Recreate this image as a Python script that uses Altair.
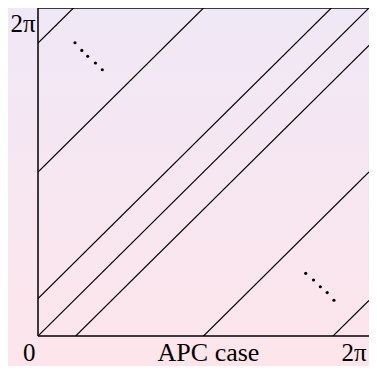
import math
import altair as alt
import pandas as pd

TWO_PI = 2 * math.pi

# diagonal line offsets (y = x + c), in radians
offsets = [0.0, 0.715, math.pi, 5.61, -0.715, -math.pi, -5.6]

# "....." dots
dots_x = [0.702, 0.832, 0.943, 1.090, 1.220, 5.082, 5.230, 5.359, 5.489, 5.618]
dots_y = [5.618, 5.470, 5.359, 5.230, 5.100, 1.201, 1.072, 0.943, 0.832, 0.684]

x_ticks = [0.0, TWO_PI]
y_ticks = [TWO_PI]
x_title = "APC case"

rows = []
for i, c in enumerate(offsets):
    rows.append({"g": i, "x": 0.0, "y": c})
    rows.append({"g": i, "x": TWO_PI, "y": TWO_PI + c})
lines_df = pd.DataFrame(rows)
dots_df = pd.DataFrame({"x": dots_x, "y": dots_y})

FONT = "Liberation Serif"
W, H = 331, 328
SVG_H = 358
xscale = alt.Scale(domain=[0, TWO_PI], nice=False, zero=False)
yscale = alt.Scale(domain=[0, TWO_PI], nice=False, zero=False)

bg = alt.Chart(pd.DataFrame({"a": [0]})).mark_rect(
    color=alt.LinearGradient(
        gradient="linear",
        stops=[alt.GradientStop(color="#F0E8F6", offset=0),
               alt.GradientStop(color="#FDE5EB", offset=1)],
        x1=0, x2=0, y1=0, y2=1,
    )
).encode(x=alt.value(-30), x2=alt.value(W), y=alt.value(0), y2=alt.value(SVG_H))

lines = alt.Chart(lines_df).mark_line(color="black", strokeWidth=1.2, clip=True).encode(
    x=alt.X("x:Q", scale=xscale,
            axis=alt.Axis(values=x_ticks, title=x_title, zindex=2,
                          labelExpr="datum.value < 1 ? '0' : '2π'",
                          labelAlign="right", labelBaseline="alphabetic",
                          labelPadding=24, labelOffset=-3,
                          titleBaseline="alphabetic", titleY=24,
                          titleX=170, titleAlign="center")),
    y=alt.Y("y:Q", scale=yscale,
            axis=alt.Axis(values=y_ticks, title=None, zindex=2,
                          labelExpr="'2π'",
                          labelAlign="right", labelBaseline="alphabetic",
                          labelPadding=3, labelOffset=23)),
    detail="g:N",
)

dots = alt.Chart(dots_df).mark_circle(color="black", size=10, opacity=1).encode(
    x=alt.X("x:Q", scale=xscale), y=alt.Y("y:Q", scale=yscale)
)

frame_df = pd.DataFrame({"a": [0]})
left = alt.Chart(frame_df).mark_rule(color="black", strokeWidth=1.5).encode(
    x=alt.datum(0), y=alt.datum(0), y2=alt.datum(TWO_PI))
bottom = alt.Chart(frame_df).mark_rule(color="black", strokeWidth=1.5).encode(
    y=alt.datum(0), x=alt.datum(0), x2=alt.datum(TWO_PI))
top = alt.Chart(frame_df).mark_rule(color="black", strokeWidth=1.5).encode(
    y=alt.datum(TWO_PI), x=alt.datum(0), x2=alt.datum(TWO_PI))

chart = alt.layer(bg, lines, dots, left, bottom, top).properties(
    width=W, height=H,
    autosize=alt.AutoSizeParams(type="none"),
    padding={"left": 30, "top": 0, "right": 0, "bottom": SVG_H - H},
).configure(background="#F6E6F1").configure_view(stroke=None).configure_axis(
    domain=False, ticks=False, tickSize=0, grid=False,
    labelFont=FONT, labelFontSize=25, labelColor="black",
    titleFont=FONT, titleFontSize=26, titleFontWeight="normal", titleColor="black",
)

chart.save("out.html", embed_options={"renderer": "svg", "actions": False})
